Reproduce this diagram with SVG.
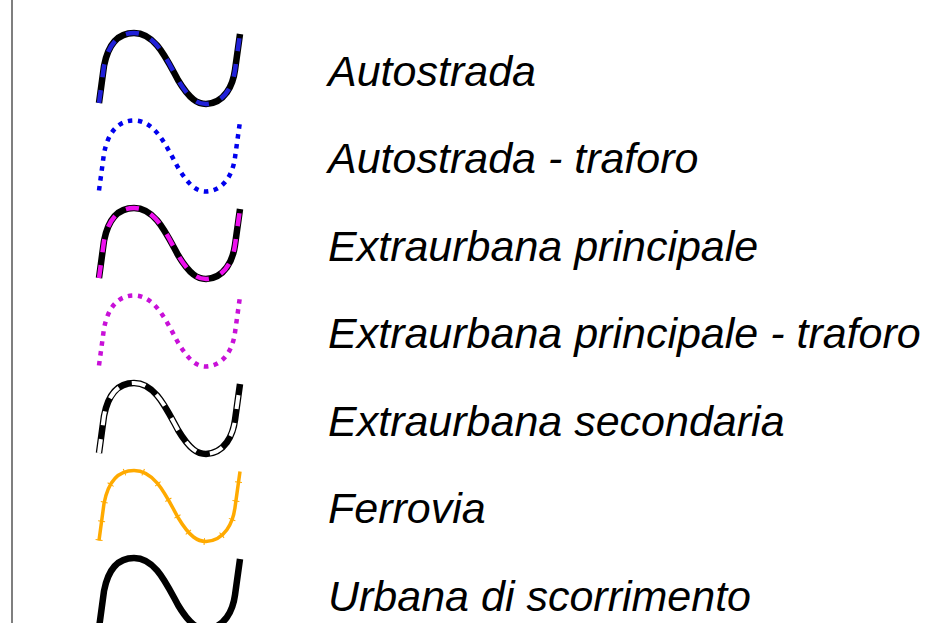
<svg xmlns="http://www.w3.org/2000/svg" width="930" height="623" viewBox="0 0 930 623">
<style>
.lbl{font-family:"Liberation Sans",Arial,sans-serif;font-style:italic;font-size:43px;fill:#000}
.c{fill:none;stroke-linejoin:round}
.base{stroke:#000;stroke-width:6.5}
</style>
<defs>
<path id="wave" d="M99,103 L104,66 C108,45 118,33 134,33 C155,33 166,58 178,80 C190,100 198,104 206,104 C225,103 233,85 235,70 L240,34"/>
</defs>
<rect width="930" height="623" fill="#fff"/>
<line x1="12" y1="0" x2="12" y2="623" stroke="#555" stroke-width="1.5"/>
<g id="autostrada">
<use href="#wave" class="c base"/>
<use href="#wave" class="c" stroke="#2020d8" stroke-width="4.5" stroke-dasharray="13 13"/>
<text class="lbl" x="328" y="85.5">Autostrada</text>
</g>
<g id="autostrada-traforo" transform="translate(0,87.5)">
<use href="#wave" class="c" stroke="#0000ee" stroke-width="4.5" stroke-dasharray="4.5 5.5"/>
<text class="lbl" x="328" y="85.5">Autostrada - traforo</text>
</g>
<g id="extraurbana-principale" transform="translate(0,175)">
<use href="#wave" class="c base"/>
<use href="#wave" class="c" stroke="#ee10ee" stroke-width="4.5" stroke-dasharray="13 13"/>
<text class="lbl" x="328" y="85.5">Extraurbana principale</text>
</g>
<g id="extraurbana-principale-traforo" transform="translate(0,262.5)">
<use href="#wave" class="c" stroke="#c810d8" stroke-width="4.5" stroke-dasharray="4.5 5.5"/>
<text class="lbl" x="328" y="85.5">Extraurbana principale - traforo</text>
</g>
<g id="extraurbana-secondaria" transform="translate(0,350)">
<use href="#wave" class="c base"/>
<use href="#wave" class="c" stroke="#fff" stroke-width="4" stroke-dasharray="14 14"/>
<text class="lbl" x="328" y="85.5">Extraurbana secondaria</text>
</g>
<g id="ferrovia" transform="translate(0,437.5)">
<use href="#wave" class="c" stroke="#ffaa00" stroke-width="3.5"/>
<use href="#wave" class="c" stroke="#ffaa00" stroke-width="7" stroke-dasharray="1 18"/>
<text class="lbl" x="328" y="85.5">Ferrovia</text>
</g>
<g id="urbana-di-scorrimento" transform="translate(0,525)">
<use href="#wave" class="c base"/>
<text class="lbl" x="328" y="85.5">Urbana di scorrimento</text>
</g>
</svg>
